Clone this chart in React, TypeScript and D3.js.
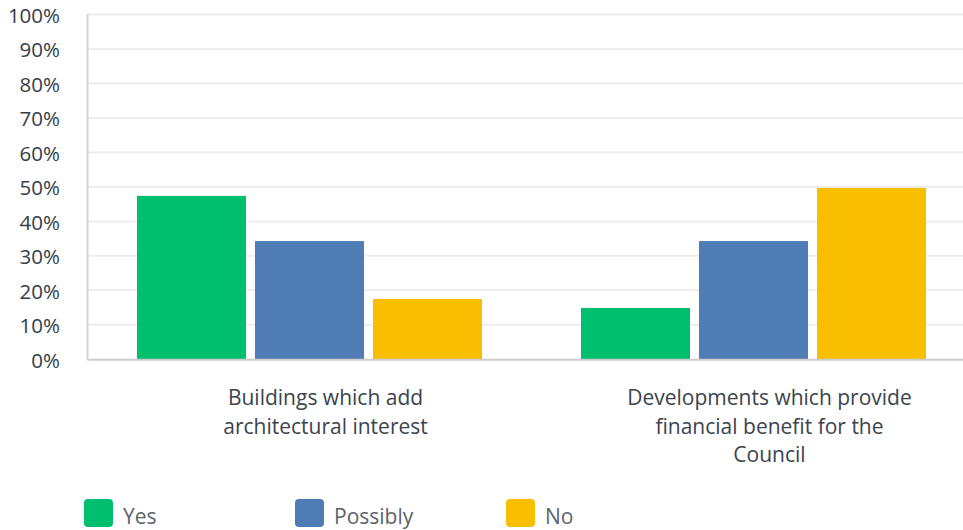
import { useEffect, useRef } from 'react';
import * as d3 from 'd3';

const categories = ['Buildings which add architectural interest', 'Developments which provide financial benefit for the Council'];
const categoryLines = [
  ['Buildings which add', 'architectural interest'],
  ['Developments which provide', 'financial benefit for the', 'Council'],
];
const seriesNames = ['Yes', 'Possibly', 'No'];
const seriesColors = ['#00bf6f', '#507cb6', '#f9be00'];
const yesValues = [0.474, 0.149];
const possiblyValues = [0.343, 0.343];
const noValues = [0.175, 0.497];
const yTicks = [0, 0.1, 0.2, 0.3, 0.4, 0.5, 0.6, 0.7, 0.8, 0.9, 1];

const W = 963;
const H = 530;
const FONT = '"Open Sans", sans-serif';

const App = () => {
  const svgRef = useRef<SVGSVGElement | null>(null);

  useEffect(() => {
    if (!svgRef.current) return;
    const svg = d3.select(svgRef.current);
    svg.selectAll('*').remove();

    const left = 87.5;
    const top = 14.5;
    const bottom = 359.3;

    const y = d3.scaleLinear().domain([0, 1]).range([bottom, top]);

    // plot is wider than the window, the right part is cut off
    const x0 = d3
      .scaleBand<string>()
      .domain(categories)
      .range([left, 975.5])
      .paddingInner(99 / 444)
      .paddingOuter(99 / 888);

    const x1 = d3
      .scaleBand<string>()
      .domain(seriesNames)
      .range([0, x0.bandwidth()])
      .paddingInner(9 / 118);

    const color = d3.scaleOrdinal<string, string>().domain(seriesNames).range(seriesColors);

    // gridlines
    svg
      .append('g')
      .selectAll('line')
      .data(yTicks.filter((d) => d > 0))
      .join('line')
      .attr('x1', left)
      .attr('x2', W)
      .attr('y1', (d) => y(d))
      .attr('y2', (d) => y(d))
      .attr('stroke', '#ededed')
      .attr('stroke-width', 2);

    // y labels
    svg
      .append('g')
      .selectAll('text')
      .data(yTicks)
      .join('text')
      .attr('x', 60)
      .attr('y', (d) => y(d) + 8.5)
      .attr('text-anchor', 'end')
      .attr('font-family', FONT)
      .attr('font-size', 20.5)
      .attr('fill', '#333e48')
      .text((d) => d3.format('.0%')(d));

    // bars
    const seriesValues = [yesValues, possiblyValues, noValues];
    const rows = categories.flatMap((c, i) =>
      seriesNames.map((s, j) => ({ cat: c, series: s, value: seriesValues[j][i] }))
    );

    svg
      .append('g')
      .selectAll('rect')
      .data(rows)
      .join('rect')
      .attr('x', (d) => (x0(d.cat) ?? 0) + (x1(d.series) ?? 0))
      .attr('y', (d) => y(d.value))
      .attr('width', x1.bandwidth())
      .attr('height', (d) => bottom - y(d.value))
      .attr('fill', (d) => color(d.series));

    // axes lines
    svg
      .append('line')
      .attr('x1', left)
      .attr('x2', left)
      .attr('y1', top)
      .attr('y2', bottom + 1)
      .attr('stroke', '#d4d4d4')
      .attr('stroke-width', 2);
    svg
      .append('line')
      .attr('x1', left)
      .attr('x2', W)
      .attr('y1', bottom + 0.5)
      .attr('y2', bottom + 0.5)
      .attr('stroke', '#cccccc')
      .attr('stroke-width', 2);

    // category labels
    const catG = svg
      .append('g')
      .selectAll('text')
      .data(categories)
      .join('text')
      .attr('text-anchor', 'middle')
      .attr('font-family', FONT)
      .attr('font-size', 21)
      .attr('fill', '#3b434c');
    catG.each(function (d, i) {
      const cx = (x0(d) ?? 0) + x0.bandwidth() / 2 + 16;
      d3.select(this)
        .selectAll('tspan')
        .data(categoryLines[i])
        .join('tspan')
        .attr('x', cx)
        .attr('y', (_, k) => 405 + k * 28.5)
        .text((t) => t);
    });

    // legend
    const legend = svg
      .append('g')
      .selectAll('g')
      .data(seriesNames)
      .join('g')
      .attr('transform', (_, i) => `translate(${84 + i * 211},499)`);
    legend
      .append('rect')
      .attr('width', 29)
      .attr('height', 28)
      .attr('rx', 4)
      .attr('fill', (d) => color(d));
    legend
      .append('text')
      .attr('x', 39)
      .attr('y', 25)
      .attr('font-family', FONT)
      .attr('font-size', 21)
      .attr('fill', '#5c636a')
      .text((d) => d);
  }, []);

  return (
    <div style={{ position: 'absolute', left: 0, top: 0 }}>
      <svg ref={svgRef} width={W} height={H} style={{ display: 'block' }}></svg>
    </div>
  );
};

export default App;
